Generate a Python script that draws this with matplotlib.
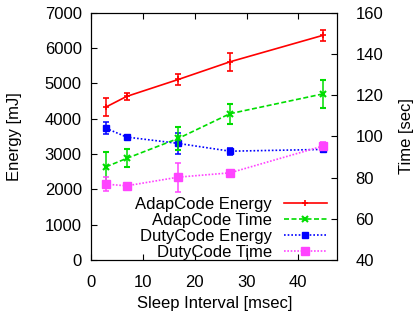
import matplotlib
matplotlib.use('Agg')
import matplotlib.pyplot as plt
import numpy as np

plt.rcParams['font.family'] = ['Liberation Sans', 'DejaVu Sans']
plt.rcParams['font.size'] = 12

sleep = [2.8, 6.8, 16.8, 26.8, 44.8]

adap_energy     = [4330, 4630, 5110, 5610, 6360]
adap_energy_err = [250, 110, 150, 260, 160]
duty_energy     = [3730, 3480, 3300, 3080, 3130]
duty_energy_err = [170, 50, 300, 100, 80]

adap_time     = [85.2, 89.3, 99.0, 111.0, 120.6]
adap_time_err = [7.3, 4.4, 5.4, 4.9, 6.9]
duty_time     = [76.8, 76.0, 80.2, 82.3, 95.3]
duty_time_err = [3.4, 1.5, 7.0, 1.0, 2.0]

fig = plt.figure(figsize=(4.13, 3.2), dpi=100)
ax1 = fig.add_axes([0.2215, 0.1875, 0.5956, 0.7728])
ax2 = ax1.twinx()

eb = dict(capsize=2, elinewidth=1.1, capthick=1.1, linewidth=1.2)

h1 = ax1.errorbar(sleep, adap_energy, yerr=adap_energy_err, color='#ff0000',
                  ls='-', marker='+', ms=5, mew=1.2, **eb)
h3 = ax1.errorbar(sleep, duty_energy, yerr=duty_energy_err, color='#0000ff',
                  ls=(0, (1, 1.2)), marker='s', ms=4, **eb)
h2 = ax2.errorbar(sleep, adap_time, yerr=adap_time_err, color='#00dd00',
                  ls=(0, (3, 1.5)), marker='x', ms=4, mew=1.5, **eb)
h4 = ax2.errorbar(sleep, duty_time, yerr=duty_time_err, color='#ff44ff',
                  ls=(0, (1, 1)), marker='s', ms=6, **eb)

ax1.set_xlim(0, 47.6)
ax1.set_ylim(0, 7000)
ax2.set_ylim(40, 160)
ax1.set_xticks([0, 10, 20, 30, 40])
ax1.set_yticks(range(0, 7001, 1000))
ax2.set_yticks(range(40, 161, 20))

ax1.tick_params(axis='x', direction='in', top=True, length=4, pad=11)
ax1.tick_params(axis='y', direction='in', right=False, length=4, pad=7)
ax2.tick_params(axis='y', direction='in', length=4, pad=13)

ax1.set_xlabel('Sleep Interval [msec]', labelpad=4)
ax1.set_ylabel('Energy [mJ]', labelpad=16)
ax2.set_ylabel('Time [sec]', labelpad=11)

leg = ax2.legend([h1[0], h2[0], h3[0], h4[0]],
                 ['AdapCode Energy', 'AdapCode Time', 'DutyCode Energy', 'DutyCode Time'],
                 loc='lower right', bbox_to_anchor=(1.012, -0.052), frameon=False,
                 markerfirst=False, handlelength=2.6, labelspacing=0.05,
                 handletextpad=0.7, borderpad=0.3)
for t in leg.get_texts():
    t.set_ha('right')

fig.savefig('out.png', dpi=100)
